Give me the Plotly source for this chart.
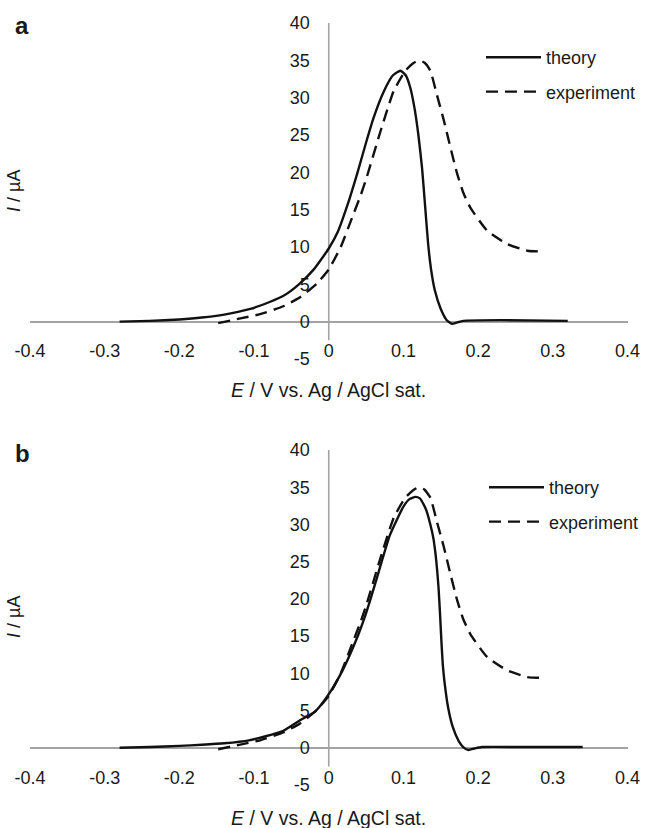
import plotly.graph_objects as go

# ---------------- data ----------------
# experiment (same measured curve shown in both panels)
exp_E = [-0.148, -0.12, -0.092, -0.06, -0.038, -0.016, 0.0, 0.016, 0.03, 0.043, 0.051,
         0.069, 0.087, 0.1025, 0.113, 0.1205, 0.128, 0.136, 0.145, 0.154, 0.163, 0.172,
         0.18, 0.19, 0.212, 0.239, 0.266, 0.283]
exp_I = [-0.2, 0.4, 1.0, 2.1, 3.3, 5.1, 7.0, 10.0, 13.6, 17.0, 19.4,
         25.4, 30.9, 33.6, 34.6, 35.0, 34.7, 33.6, 30.3, 27.0, 23.3, 19.8,
         17.3, 15.2, 12.2, 10.4, 9.5, 9.4]

# theory, panel a
theo_a_E = [-0.28, -0.24, -0.2, -0.17, -0.14, -0.105, -0.08, -0.06, -0.04, -0.02, 0.0,
            0.012, 0.025, 0.038, 0.05, 0.06, 0.074, 0.086, 0.096, 0.103, 0.109, 0.115,
            0.12, 0.125, 0.129, 0.133, 0.137, 0.142, 0.15, 0.158, 0.165, 0.172, 0.18,
            0.23, 0.32]
theo_a_I = [0.0, 0.1, 0.3, 0.55, 0.95, 1.7, 2.6, 3.5, 5.0, 7.0, 9.8,
            12.0, 15.6, 19.8, 24.0, 27.3, 30.9, 33.0, 33.6, 33.0, 31.4, 28.5,
            25.0, 20.5, 15.5, 10.5, 7.0, 4.2, 1.7, 0.2, -0.3, -0.1, 0.1,
            0.2, 0.1]

# theory, panel b
theo_b_E = [-0.28, -0.24, -0.2, -0.17, -0.14, -0.107, -0.0625, -0.04, -0.018, 0.0, 0.018,
            0.036, 0.049, 0.056, 0.065, 0.072, 0.082, 0.1, 0.108, 0.116, 0.122, 0.127,
            0.131, 0.136, 0.14, 0.143, 0.145, 0.147, 0.149, 0.151, 0.153, 0.156, 0.16,
            0.166, 0.174, 0.18, 0.187, 0.195, 0.205, 0.26, 0.34]
theo_b_I = [0.0, 0.1, 0.25, 0.4, 0.6, 1.0, 2.2, 3.6, 4.9, 7.2, 10.3,
            14.3, 17.8, 20.0, 23.0, 25.4, 28.6, 32.4, 33.4, 33.7, 33.5, 32.7,
            31.8, 30.0, 28.2, 26.0, 24.0, 21.5, 18.0, 14.0, 10.8, 8.0, 5.3,
            2.8, 0.9, 0.1, -0.3, -0.1, 0.1, 0.1, 0.1]

x_ticks = [-0.4, -0.3, -0.2, -0.1, 0, 0.1, 0.2, 0.3, 0.4]
x_tick_labels = ["-0.4", "-0.3", "-0.2", "-0.1", "0", "0.1", "0.2", "0.3", "0.4"]
y_ticks = [-5, 0, 5, 10, 15, 20, 25, 30, 35, 40]
y_tick_labels = ["-5", "0", "5", "10", "15", "20", "25", "30", "35", "40"]

series_names = ["theory", "experiment"]
panel_labels = ["a", "b"]
x_title = "<i>E</i> / V vs. Ag / AgCl sat."
y_title = "<i>I</i> / µA"

# ---------------- layout helpers ----------------
W, H = 646, 828
FONT = "Liberation Sans, Arial, sans-serif"
TXT = "#1a1a1a"
AX = "#a3a3a3"


def py(px):
    return 1 - px / H


def pxx(px):
    return px / W


x_dom = [pxx(30), pxx(627.5)]
ya_dom = [py(359), py(23)]
yb_dom = [py(785), py(450)]
x_mid = (x_dom[0] + x_dom[1]) / 2

fig = go.Figure()

line_solid = dict(color="#111111", width=2.4, shape="spline", smoothing=0.5)
line_dash = dict(color="#111111", width=2.4, dash="12px,7px", shape="spline", smoothing=0.5)

fig.add_trace(go.Scatter(x=theo_a_E, y=theo_a_I, mode="lines", name=series_names[0],
                         line=line_solid, xaxis="x", yaxis="y", legend="legend",
                         legendgroup="a1"))
fig.add_trace(go.Scatter(x=exp_E, y=exp_I, mode="lines", name=series_names[1],
                         line=line_dash, xaxis="x", yaxis="y", legend="legend",
                         legendgroup="a2"))
fig.add_trace(go.Scatter(x=theo_b_E, y=theo_b_I, mode="lines", name=series_names[0],
                         line=line_solid, xaxis="x2", yaxis="y2", legend="legend2",
                         legendgroup="b1"))
fig.add_trace(go.Scatter(x=exp_E, y=exp_I, mode="lines", name=series_names[1],
                         line=line_dash, xaxis="x2", yaxis="y2", legend="legend2",
                         legendgroup="b2"))

tickfont = dict(family=FONT, size=18, color=TXT)

xcommon = dict(range=[-0.4, 0.4], domain=x_dom, tickvals=x_ticks, ticktext=x_tick_labels,
               showgrid=False, zeroline=False, showline=False, ticks="",
               tickfont=tickfont, anchor="free")
ycommon = dict(range=[-5, 40], tickvals=y_ticks, ticktext=y_tick_labels,
               showgrid=False, zeroline=True, zerolinecolor=AX, zerolinewidth=1.6,
               showline=False, ticks="", tickfont=tickfont, anchor="free",
               position=x_mid, ticklabelstandoff=19)

legcommon = dict(font=dict(family=FONT, size=18, color=TXT), bgcolor="rgba(0,0,0,0)",
                 itemwidth=55, tracegroupgap=8, traceorder="grouped",
                 xanchor="left", yanchor="top")

fig.update_layout(
    width=W, height=H, autosize=False,
    margin=dict(l=0, r=0, t=0, b=0, autoexpand=False),
    paper_bgcolor="white", plot_bgcolor="white",
    showlegend=True,
    xaxis=dict(**xcommon, position=py(338)),
    yaxis=dict(**ycommon, domain=ya_dom),
    xaxis2=dict(**xcommon, position=py(765)),
    yaxis2=dict(**ycommon, domain=yb_dom),
    legend=dict(**legcommon, x=pxx(481), y=py(39)),
    legend2=dict(**legcommon, x=pxx(484), y=py(469)),
)

# axis lines at x = 0
for xr, yr in (("x", "y"), ("x2", "y2")):
    fig.add_shape(type="line", xref=xr, yref=yr, x0=0, x1=0, y0=-2.5, y1=40,
                  line=dict(color=AX, width=1.6), layer="below")

# text annotations
ann = []
for lbl, ypx in zip(panel_labels, (25, 453)):
    ann.append(dict(text="<b>%s</b>" % lbl, x=pxx(22), y=py(ypx), xref="paper", yref="paper",
                    showarrow=False, xanchor="center", yanchor="middle",
                    font=dict(family=FONT, size=24, color=TXT)))
for ypx in (390, 818):
    ann.append(dict(text=x_title, x=x_mid, y=py(ypx), xref="paper", yref="paper",
                    showarrow=False, xanchor="center", yanchor="middle",
                    font=dict(family=FONT, size=19.5, color=TXT)))
for ypx in (191, 617):
    ann.append(dict(text=y_title, x=pxx(14), y=py(ypx), xref="paper", yref="paper",
                    showarrow=False, xanchor="center", yanchor="middle", textangle=-90,
                    font=dict(family=FONT, size=18, color=TXT)))
fig.update_layout(annotations=ann)

fig.write_html("out.html")
